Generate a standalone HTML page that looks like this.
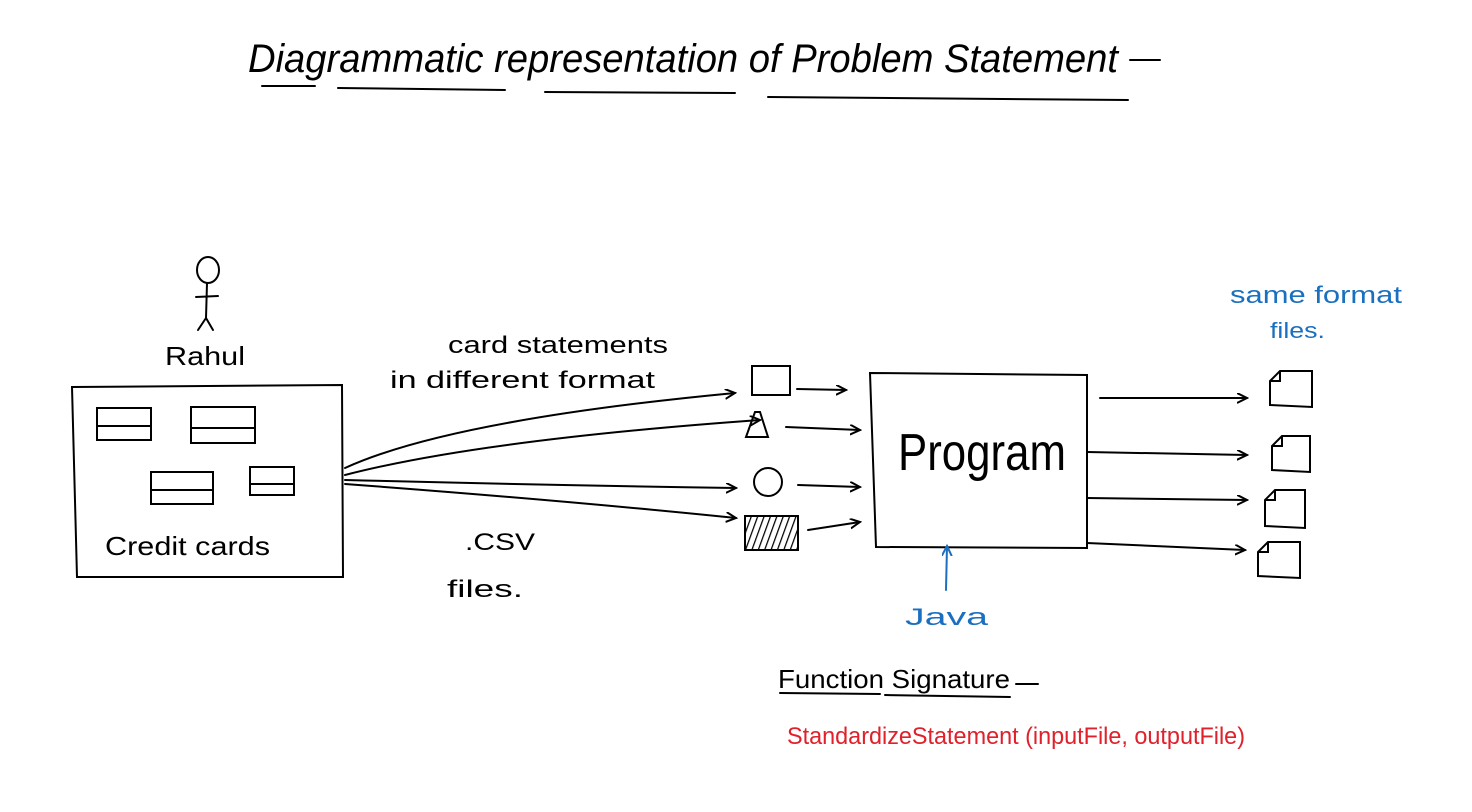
<!DOCTYPE html>
<html><head><meta charset="utf-8"><style>
html,body{margin:0;padding:0;background:#fff;}
svg{display:block;}
text{font-family:"Liberation Sans",sans-serif;}
</style></head><body>
<svg width="1472" height="812" viewBox="0 0 1472 812" xmlns="http://www.w3.org/2000/svg">
<defs>
<marker id="ah" markerWidth="12" markerHeight="12" refX="10" refY="5" orient="auto" markerUnits="userSpaceOnUse">
<path d="M0,0 L10,5 L0,10" fill="none" stroke="#000" stroke-width="2"/></marker>
<marker id="ahb" markerWidth="12" markerHeight="12" refX="10" refY="5" orient="auto" markerUnits="userSpaceOnUse">
<path d="M0,0 L10,5 L0,10" fill="none" stroke="#1a6fc0" stroke-width="2"/></marker>
<pattern id="hatch" width="6" height="6" patternUnits="userSpaceOnUse" patternTransform="rotate(20)">
<line x1="0" y1="0" x2="0" y2="6" stroke="#000" stroke-width="2.5"/></pattern>
</defs>
<g stroke="#000" stroke-width="2" fill="none" stroke-linecap="round">
<text x="248" y="72" font-size="40" fill="#000" stroke="none" font-family="Liberation Serif" font-style="italic" textLength="870" lengthAdjust="spacingAndGlyphs">Diagrammatic representation of Problem Statement</text>
<line x1="1130" y1="60" x2="1160" y2="60"/>
<path d="M262 86 L315 86 M338 88 L505 90 M545 92 L735 93 M768 97 L1128 100"/>
<ellipse cx="208" cy="270" rx="11" ry="13"/>
<path d="M207 283 L206 318 M196 297 L218 296 M206 318 L198 330 M206 318 L213 330"/>
<text x="165" y="365" font-size="26" fill="#000" stroke="none" textLength="80" lengthAdjust="spacingAndGlyphs">Rahul</text>
<path d="M72 387 L342 385 L343 577 L77 577 Z"/>
<rect x="97" y="408" width="54" height="32"/><line x1="97" y1="426" x2="151" y2="426"/>
<rect x="191" y="407" width="64" height="36"/><line x1="191" y1="428" x2="255" y2="428"/>
<rect x="151" y="472" width="62" height="32"/><line x1="151" y1="490" x2="213" y2="490"/>
<rect x="250" y="467" width="44" height="28"/><line x1="250" y1="484" x2="294" y2="484"/>
<text x="105" y="555" font-size="26" fill="#000" stroke="none" textLength="165" lengthAdjust="spacingAndGlyphs">Credit cards</text>
<path d="M345 468 Q450 420 735 393" marker-end="url(#ah)"/>
<path d="M345 475 Q480 440 760 420" marker-end="url(#ah)"/>
<path d="M345 480 Q540 485 736 488" marker-end="url(#ah)"/>
<path d="M345 484 Q560 500 736 518" marker-end="url(#ah)"/>
<text x="448" y="353" font-size="24" fill="#000" stroke="none" textLength="220" lengthAdjust="spacingAndGlyphs">card statements</text>
<text x="390" y="388" font-size="24" fill="#000" stroke="none" textLength="265" lengthAdjust="spacingAndGlyphs">in different format</text>
<text x="465" y="550" font-size="24" fill="#000" stroke="none" textLength="70" lengthAdjust="spacingAndGlyphs">.CSV</text>
<text x="447" y="597" font-size="24" fill="#000" stroke="none" textLength="76" lengthAdjust="spacingAndGlyphs">files.</text>
<rect x="752" y="366" width="38" height="29"/>
<path d="M755 412 L746 437 L768 437 L760 412 Z"/>
<circle cx="768" cy="482" r="14"/>
<rect x="745" y="516" width="53" height="34" fill="url(#hatch)"/>
<path d="M797 389 L846 390" marker-end="url(#ah)"/>
<path d="M786 427 L860 430" marker-end="url(#ah)"/>
<path d="M798 485 L860 487" marker-end="url(#ah)"/>
<path d="M808 530 L860 522" marker-end="url(#ah)"/>
<path d="M870 373 L1087 375 L1087 548 L876 547 Z"/>
<text x="898" y="470" font-size="52" fill="#000" stroke="none" textLength="168" lengthAdjust="spacingAndGlyphs">Program</text>
<path d="M946 590 L947 546" stroke="#1a6fc0" marker-end="url(#ahb)"/>
<text x="905" y="625" font-size="24" fill="#1a6fc0" stroke="none" textLength="83" lengthAdjust="spacingAndGlyphs">Java</text>
<path d="M1100 398 L1247 398" marker-end="url(#ah)"/>
<path d="M1087 452 L1247 455" marker-end="url(#ah)"/>
<path d="M1087 498 L1247 500" marker-end="url(#ah)"/>
<path d="M1087 543 L1245 550" marker-end="url(#ah)"/>
<path d="M1280 371 L1312 371 L1312 407 L1270 405 L1270 381 Z M1270 381 L1280 381 L1280 371"/>
<path d="M1282 436 L1310 436 L1310 472 L1272 470 L1272 446 Z M1272 446 L1282 446 L1282 436"/>
<path d="M1275 490 L1305 490 L1305 528 L1265 526 L1265 500 Z M1265 500 L1275 500 L1275 490"/>
<path d="M1268 542 L1300 542 L1300 578 L1258 576 L1258 552 Z M1258 552 L1268 552 L1268 542"/>
<text x="1230" y="303" font-size="24" fill="#1a6fc0" stroke="none" textLength="172" lengthAdjust="spacingAndGlyphs">same format</text>
<text x="1270" y="338" font-size="22" fill="#1a6fc0" stroke="none" textLength="55" lengthAdjust="spacingAndGlyphs">files.</text>
<text x="778" y="688" font-size="26" fill="#000" stroke="none" textLength="232" lengthAdjust="spacingAndGlyphs">Function Signature</text>
<line x1="1016" y1="684" x2="1038" y2="684"/>
<path d="M780 693 L880 694 M885 695 L1010 697"/>
<text x="787" y="744" font-size="24" fill="#e0202a" stroke="none" textLength="458" lengthAdjust="spacingAndGlyphs">StandardizeStatement (inputFile, outputFile)</text>
</g>
</svg>
</body></html>
